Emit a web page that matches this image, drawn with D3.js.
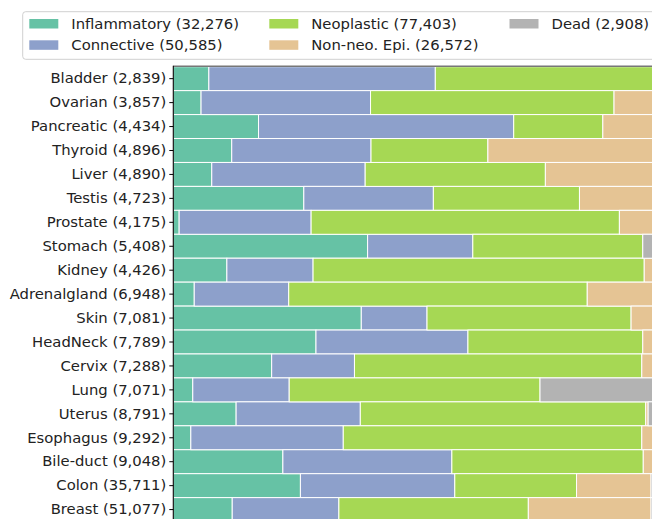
<!DOCTYPE html>
<html>
<head>
<meta charset="utf-8">
<script src="https://cdn.jsdelivr.net/npm/d3@7"></script>
<style>
  body { margin: 0; background: #fff; }
  svg { display: block; }
  svg text { font-family: "DejaVu Sans", sans-serif; font-size: 14.8px; }
</style>
</head>
<body>
<div id="chart"></div>
<script>
// tissues, top to bottom, with nuclei counts
var tissues = ["Bladder", "Ovarian", "Pancreatic", "Thyroid", "Liver", "Testis", "Prostate",
	"Stomach", "Kidney", "Adrenalgland", "Skin", "HeadNeck", "Cervix", "Lung", "Uterus",
	"Esophagus", "Bile-duct", "Colon", "Breast"];
var tissueCounts = [2839, 3857, 4434, 4896, 4890, 4723, 4175, 5408, 4426, 6948, 7081, 7789,
	7288, 7071, 8791, 9292, 9048, 35711, 51077];

var classes = ["Inflammatory", "Connective", "Neoplastic", "Non-neo. Epi.", "Dead"];
var classTotals = [32276, 50585, 77403, 26572, 2908];

// share of each class per tissue (%)
var inflammatory = [7.3, 5.7, 17.5, 12.0, 7.9, 26.8, 1.2, 39.9, 11.0, 4.3, 38.6, 29.3, 20.2, 4.0, 12.9, 3.6, 22.5, 26.1, 12.1];
var connective   = [46.5, 34.8, 52.4, 28.6, 31.5, 26.6, 27.1, 21.6, 17.7, 19.4, 13.5, 31.2, 17.0, 19.8, 25.5, 31.3, 34.7, 31.7, 21.9];
var neoplastic   = [46.2, 50.0, 18.3, 24.0, 37.0, 30.0, 63.3, 34.9, 68.0, 61.3, 41.9, 35.9, 59.0, 51.5, 58.6, 61.3, 39.3, 25.0, 38.9];
var nonNeoEpi    = [0, 9.5, 11.8, 35.4, 23.6, 16.6, 8.4, 0, 3.3, 15.0, 6.0, 3.6, 3.8, 0, 0.5, 3.8, 3.5, 15.3, 25.2];
var dead         = [0, 0, 0, 0, 0, 0, 0, 3.6, 0, 0, 0, 0, 0, 24.7, 2.5, 0, 0, 1.9, 1.9];

var colors = ["#66c2a5", "#8da0cb", "#a6d854", "#e5c494", "#b3b3b3"];

var width = 652, height = 519;
var fmt = d3.format(",");

var rows = tissues.map(function(t, i) {
	return {
		label: t + " (" + fmt(tissueCounts[i]) + ")",
		c0: inflammatory[i], c1: connective[i], c2: neoplastic[i], c3: nonNeoEpi[i], c4: dead[i]
	};
});

var svg = d3.select("#chart")
	.append("svg")
	.attr("width", width)
	.attr("height", height);

var plot = {left: 173.3, top: 66.7, right: 660.3, step: 23.94};

var xScale = d3.scaleLinear()
	.domain([0, 100])
	.range([plot.left, plot.right]);

var yScale = d3.scaleBand()
	.domain(rows.map(function(d) { return d.label; }))
	.range([plot.top, plot.top + plot.step * rows.length])
	.padding(0);

var stack = d3.stack().keys(["c0", "c1", "c2", "c3", "c4"]);
var series = stack(rows);

var g = svg.append("g");

g.selectAll("g.series")
	.data(series)
	.enter()
	.append("g")
	.attr("class", "series")
	.attr("fill", function(d, i) { return colors[i]; })
	.selectAll("rect")
	.data(function(d) { return d; })
	.enter()
	.append("rect")
	.attr("x", function(d) { return xScale(d[0]); })
	.attr("y", function(d) { return yScale(d.data.label); })
	.attr("width", function(d) { return Math.max(0, xScale(d[1]) - xScale(d[0])); })
	.attr("height", yScale.bandwidth())
	.attr("stroke", "#fff")
	.attr("stroke-width", 1)
	.style("display", function(d) { return d[1] - d[0] > 0 ? null : "none"; });

// top spine
svg.append("line")
	.attr("x1", plot.left).attr("x2", width)
	.attr("y1", plot.top - 0.5).attr("y2", plot.top - 0.5)
	.attr("stroke", "#777")
	.attr("stroke-width", 1.5);

var yAxis = d3.axisLeft()
	.scale(yScale)
	.tickSizeInner(4)
	.tickSizeOuter(0)
	.tickPadding(3);

var yAxisG = svg.append("g")
	.attr("transform", "translate(" + plot.left + ",0)")
	.call(yAxis)
	.attr("font-family", null)
	.attr("font-size", null);

yAxisG.select(".domain")
	.attr("stroke", "#000")
	.attr("stroke-width", 1.1)
	.attr("d", "M0," + (plot.top - 1) + "V" + height);

yAxisG.selectAll("text")
	.attr("fill", "#222");

// legend
var legend = svg.append("g");

legend.append("rect")
	.attr("x", 22.7).attr("y", 11.7)
	.attr("width", 660).attr("height", 47.6)
	.attr("rx", 3)
	.attr("fill", "#fff")
	.attr("stroke", "#d0d0d0");

var legendPos = [[29.3, 23.5], [29.3, 44.8], [269.3, 23.5], [269.3, 44.8], [509.5, 23.5]];

var items = legend.selectAll("g.item")
	.data(classes)
	.enter()
	.append("g")
	.attr("class", "item")
	.attr("transform", function(d, i) { return "translate(" + legendPos[i][0] + "," + legendPos[i][1] + ")"; });

items.append("rect")
	.attr("x", 0).attr("y", -4.5)
	.attr("width", 29).attr("height", 9.5)
	.attr("fill", function(d, i) { return colors[i]; });

items.append("text")
	.attr("x", 42)
	.attr("dy", "0.36em")
	.attr("fill", "#222")
	.text(function(d, i) { return d + " (" + fmt(classTotals[i]) + ")"; });
</script>
</body>
</html>
